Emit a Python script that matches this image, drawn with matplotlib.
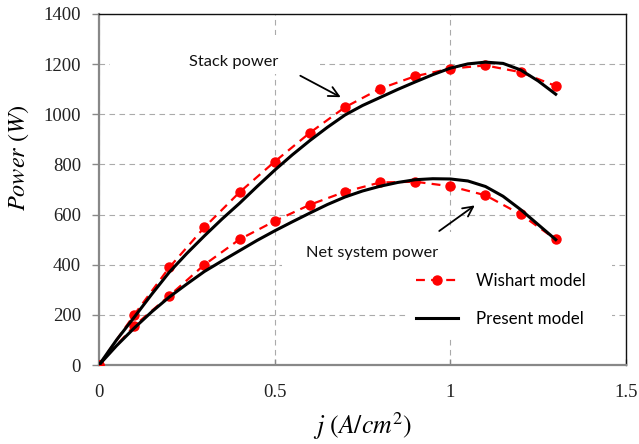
import matplotlib
matplotlib.use("Agg")
import matplotlib.pyplot as plt
from matplotlib.patches import Rectangle

# ---- data ----
j_wishart = [0.0, 0.1, 0.2, 0.3, 0.4, 0.5, 0.6, 0.7, 0.8, 0.9, 1.0, 1.1, 1.2, 1.3]
stack_wishart = [0, 200, 389, 549, 689, 811, 926, 1028, 1102, 1152, 1182, 1195, 1168, 1113]
net_wishart = [0, 156, 276, 400, 501, 574, 639, 691, 728, 731, 713, 677, 601, 501]

j_present = [0.0, 0.05, 0.1, 0.15, 0.2, 0.25, 0.3, 0.35, 0.4, 0.45, 0.5, 0.55, 0.6,
             0.65, 0.7, 0.75, 0.8, 0.85, 0.9, 0.95, 1.0, 1.05, 1.1, 1.15, 1.2, 1.25, 1.3]
stack_present = [0, 100, 190, 282, 370, 445, 515, 582, 645, 712, 777, 838, 895,
                 948, 997, 1035, 1067, 1099, 1129, 1158, 1184, 1201, 1208, 1203, 1177, 1133, 1080]
net_present = [0, 77, 147, 212, 271, 323, 373, 415, 456, 497, 535, 571, 606,
               640, 670, 694, 713, 728, 739, 743, 742, 734, 712, 673, 620, 560, 500]

xticks = [0, 0.5, 1, 1.5]
xticklabels = ['0', '0.5', '1', '1.5']
yticks = [0, 200, 400, 600, 800, 1000, 1200, 1400]

plt.rcParams['mathtext.fontset'] = 'stix'

fig = plt.figure(figsize=(6.39, 4.44), dpi=100)
ax = fig.add_axes([99/639, (444-365)/444, 527/639, 351/444])
ax.set_xlim(0, 1.5)
ax.set_ylim(0, 1400)
ax.set_xticks(xticks)
ax.set_xticklabels(xticklabels)
ax.set_yticks(yticks)

serif = 'Liberation Serif'
sans = 'Lato'
for lab in ax.get_xticklabels() + ax.get_yticklabels():
    lab.set_fontfamily(serif)
    lab.set_fontsize(13.5)
    lab.set_color('#222222')

ax.tick_params(axis='y', direction='out', length=5, width=1, color='#888888', pad=8)
ax.tick_params(axis='x', direction='in', length=4, width=1, color='#888888', pad=14)

ax.grid(True, color='#aaaaaa', linestyle=(0, (5, 4)), linewidth=0.8, zorder=0)
ax.set_axisbelow(True)

for s in ['left', 'bottom']:
    ax.spines[s].set_color('#888888')
    ax.spines[s].set_linewidth(1.6)
for s in ['top', 'right']:
    ax.spines[s].set_color('#111111')
    ax.spines[s].set_linewidth(1.0)

# white boxes behind texts / legend (hide grid)
def pxbox(x0, y0, x1, y1):
    return Rectangle(((x0-99)/527, (365-y1)/351), (x1-x0)/527, (y1-y0)/351,
                     transform=ax.transAxes, facecolor='white', edgecolor='none', zorder=1)
ax.add_patch(pxbox(110, 35, 320, 74))
ax.add_patch(pxbox(282, 232, 462, 290))
ax.add_patch(pxbox(407, 258, 612, 338))

red_kw = dict(color='#ff0000', linestyle=(0, (4, 2.8)), linewidth=1.6,
              marker='o', markersize=6.5, zorder=3)
l1, = ax.plot(j_wishart, stack_wishart, label='Wishart model', **red_kw)
ax.plot(j_wishart, net_wishart, **red_kw)
l2, = ax.plot(j_present, stack_present, color='black', linewidth=2.2, zorder=4,
              label='Present model', solid_joinstyle='round')
ax.plot(j_present, net_present, color='black', linewidth=2.2, zorder=4,
        solid_joinstyle='round')

# annotations
ax.text((234-99)/527, (365-62)/351, 'Stack power', transform=ax.transAxes,
        ha='center', va='center', fontfamily=sans, fontsize=11.8, color='#111111', zorder=5)
ax.text((372-99)/527, (365-253)/351, 'Net system power', transform=ax.transAxes,
        ha='center', va='center', fontfamily=sans, fontsize=11.8, color='#111111', zorder=5)
ax.annotate('', xy=(0.695, 1063), xytext=(0.566, 1159),
            arrowprops=dict(arrowstyle='->', color='black', lw=1.3, mutation_scale=18), zorder=5)
ax.annotate('', xy=(1.076, 643), xytext=(0.962, 528),
            arrowprops=dict(arrowstyle='->', color='black', lw=1.3, mutation_scale=18), zorder=5)

leg = ax.legend(handles=[l1, l2], loc='upper left',
                bbox_to_anchor=((416-99)/527, (365-273)/351),
                frameon=False, borderpad=0, borderaxespad=0, handlelength=2.5,
                handletextpad=1.05, labelspacing=1.3, numpoints=1,
                prop={'family': sans, 'size': 12.2})
leg.set_zorder(6)

xl = ax.set_xlabel(r'$j\ (A/cm^2)$', fontsize=18.5)
xl.set_va('center')
ax.xaxis.set_label_coords(0.5, (365-426)/351)
yl = ax.set_ylabel(r'$Power\ (W)$', fontsize=17.5)
yl.set_va('center')
ax.yaxis.set_label_coords((19-99)/527, (365-158)/351)

fig.savefig('out.png', dpi=100)
